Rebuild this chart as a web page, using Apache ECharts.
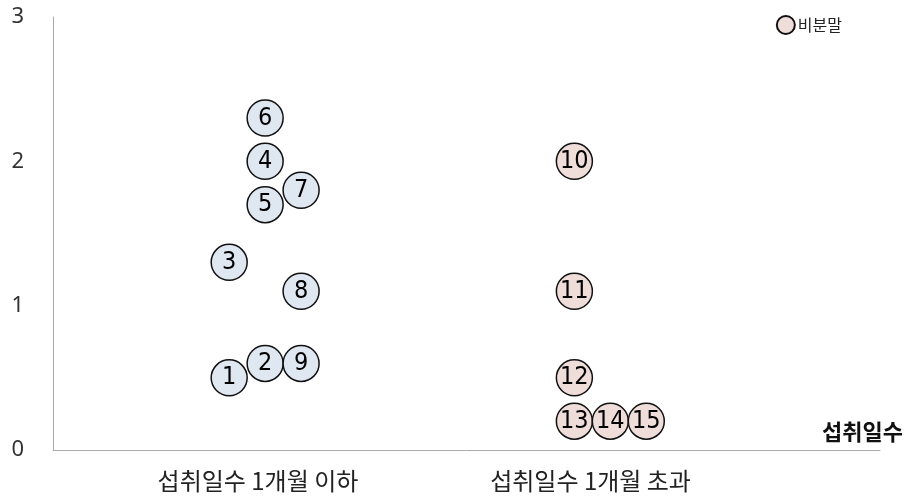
<!DOCTYPE html>
<html>
<head>
<meta charset="utf-8">
<script src="https://cdn.jsdelivr.net/npm/echarts@6/dist/echarts.min.js"></script>
<style>html,body{margin:0;padding:0;background:#fff}#c{width:911px;height:497px}</style>
</head>
<body>
<div id="c"></div>
<script>
// Category labels and their positions on the x scale
const categories = ['섭취일수 1개월 이하', '섭취일수 1개월 초과'];
const categoryPos = [5.7, 14.95];
const yTicks = [0, 1, 2, 3];
const xAxisName = '섭취일수';

// Series 1 (powder, not in legend): id, x, y
const s1Ids = [1, 2, 3, 4, 5, 6, 7, 8, 9];
const s1X   = [4.9, 5.9, 4.9, 5.9, 5.9, 5.9, 6.9, 6.9, 6.9];
const s1Y   = [0.5, 0.6, 1.3, 2.0, 1.7, 2.3, 1.8, 1.1, 0.6];

// Series 2 (비분말)
const s2Ids = [10, 11, 12, 13, 14, 15];
const s2X   = [14.5, 14.5, 14.5, 14.5, 15.5, 16.5];
const s2Y   = [2.0, 1.1, 0.5, 0.2, 0.2, 0.2];

const s1Name = '분말';
const s2Name = '비분말';

function build(ids, xs, ys) {
  return ids.map((id, i) => ({ value: [xs[i], ys[i]], name: String(id) }));
}

const chart = echarts.init(document.getElementById('c'), null, { renderer: 'canvas' });
const numLabel = {
  show: true,
  position: 'inside',
  formatter: p => p.name,
  fontFamily: 'DejaVu Sans Condensed, Liberation Sans',
  fontSize: 25,
  color: '#000'
};
chart.setOption({
  animation: false,
  grid: { left: 53, right: 31, top: 17, bottom: 47, containLabel: false },
  legend: {
    data: [s2Name],
    right: 64, top: 10,
    icon: 'circle',
    itemWidth: 18, itemHeight: 18, itemGap: 4,
    textStyle: { fontFamily: 'Noto Sans CJK KR', fontSize: 16, color: '#222', padding: [0, 0, 0, -2] }
  },
  xAxis: {
    type: 'value', min: 0, max: 23,
    splitLine: { show: false },
    axisLine: { show: true, lineStyle: { color: '#aaa', width: 1 } },
    axisTick: { show: false },
    axisLabel: {
      customValues: categoryPos,
      formatter: v => { const i = categoryPos.indexOf(v); return i >= 0 ? categories[i] : ''; },
      fontFamily: 'Noto Sans CJK KR', fontSize: 24, color: '#222', margin: 19
    },
    name: xAxisName,
    nameLocation: 'end',
    nameGap: 23,
    nameTextStyle: {
      fontFamily: 'Noto Sans CJK KR', fontSize: 22, fontWeight: 'bold', color: '#111',
      align: 'right', verticalAlign: 'bottom', padding: [0, 0, 7, 0]
    }
  },
  yAxis: {
    type: 'value', min: 0, max: 3, interval: 1,
    splitLine: { show: false },
    axisLine: { show: true, lineStyle: { color: '#aaa', width: 1 } },
    axisTick: { show: false },
    axisLabel: {
      customValues: yTicks,
      fontFamily: 'Noto Sans', fontSize: 22, color: '#333', margin: 29
    }
  },
  series: [
    {
      name: s1Name, type: 'scatter', symbol: 'circle', symbolSize: 36,
      itemStyle: { color: '#dfe7f1', borderColor: '#111', borderWidth: 1.5, opacity: 1 },
      label: numLabel,
      data: build(s1Ids, s1X, s1Y)
    },
    {
      name: s2Name, type: 'scatter', symbol: 'circle', symbolSize: 36,
      itemStyle: { color: '#eeddd9', borderColor: '#111', borderWidth: 1.5, opacity: 1 },
      label: numLabel,
      data: build(s2Ids, s2X, s2Y)
    }
  ]
});
</script>
</body>
</html>
